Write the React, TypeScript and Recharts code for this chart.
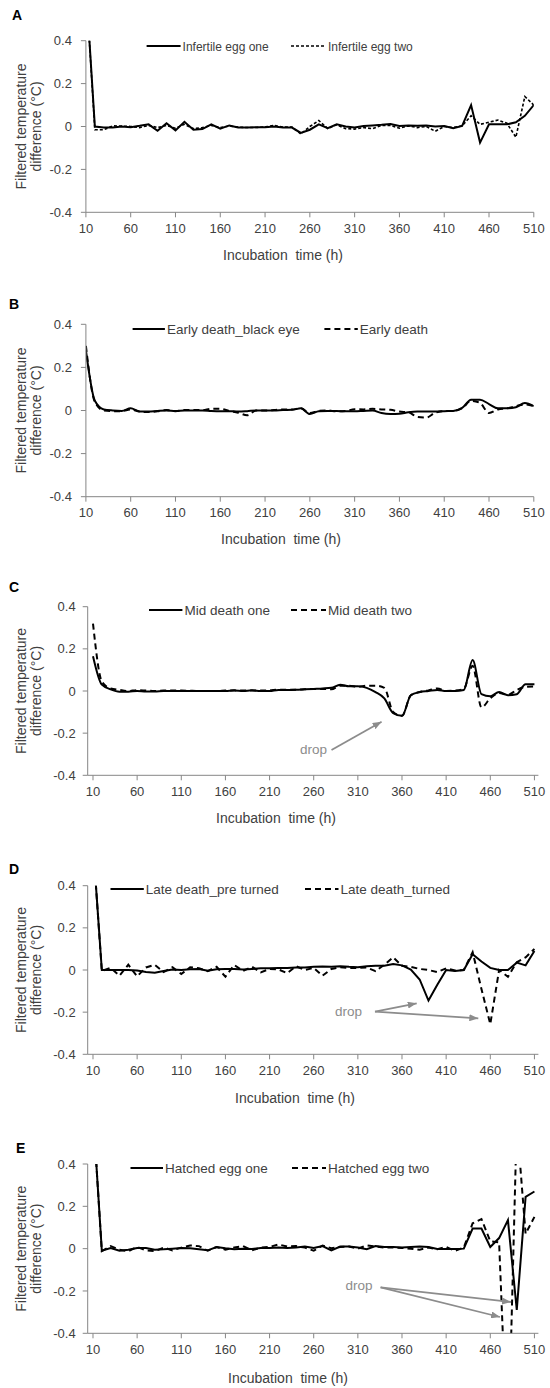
import React from "react";
import { LineChart, Line, XAxis, YAxis, Legend } from "recharts";

// incubation hours, one reading every 10 h
const HOURS = [
  10, 20, 30, 40, 50, 60, 70, 80, 90, 100,
  110, 120, 130, 140, 150, 160, 170, 180, 190, 200,
  210, 220, 230, 240, 250, 260, 270, 280, 290, 300,
  310, 320, 330, 340, 350, 360, 370, 380, 390, 400,
  410, 420, 430, 440, 450, 460, 470, 480, 490, 500, 510
];

const X_TICKS = [10, 60, 110, 160, 210, 260, 310, 360, 410, 460, 510];
const Y_TICKS = [-0.4, -0.2, 0, 0.2, 0.4];

// A - infertile eggs
const A_ONE = [
  0.66, 0, -0.005, -0.005, 0, -0.003, 0.003, 0.01, -0.02, 0.015,
  -0.018, 0.022, -0.015, -0.012, 0.01, -0.01, 0.005, -0.005, -0.005, -0.003,
  -0.003, 0, -0.005, -0.005, -0.03, -0.015, 0.01, -0.008, 0.01, 0,
  -0.005, 0.002, 0.005, 0.008, 0.012, 0.002, 0.005, 0.003, 0.005, 0,
  0.002, -0.008, 0.003, 0.1, -0.075, 0.01, 0.01, 0.01, 0.02, 0.05, 0.1
];
const A_TWO = [
  0.66, -0.015, -0.015, 0.003, 0.002, 0, -0.005, 0.005, -0.005, 0.005,
  -0.008, 0.01, -0.01, -0.005, 0.005, -0.005, 0.002, -0.003, -0.005, -0.005,
  -0.002, 0.005, -0.003, -0.003, -0.035, 0, 0.028, -0.01, 0.008, -0.01,
  -0.012, -0.005, -0.01, 0.005, 0.005, -0.008, 0.003, -0.005, 0, -0.022,
  0, -0.005, 0.003, 0.05, 0.01, 0.02, 0.03, 0.015, -0.05, 0.14, 0.1
];

// B - early death
const B_ONE = [
  0.28, 0.045, 0.005, 0, -0.002, 0.01, -0.005, -0.005, -0.002, 0,
  -0.002, 0, 0, 0, -0.002, -0.003, -0.003, -0.005, -0.003, 0,
  0, 0, 0.002, 0.003, 0.01, -0.016, -0.003, -0.002, -0.002, -0.004,
  -0.004, -0.002, 0, -0.012, -0.016, -0.015, -0.008, -0.005, -0.005, -0.005,
  -0.003, -0.002, 0.012, 0.05, 0.05, 0.03, 0.01, 0.01, 0.015, 0.035, 0.02
];
const B_TWO = [
  0.3, 0.04, 0, -0.003, -0.003, 0.005, -0.005, -0.007, -0.004, 0.002,
  -0.003, 0.002, 0.002, 0.002, 0.008, 0.008, -0.002, -0.01, -0.022, 0,
  0, 0.002, 0.005, 0.005, 0.01, -0.012, -0.002, 0, -0.004, -0.002,
  0.006, 0.005, 0.008, 0.005, 0.003, -0.005, -0.008, -0.03, -0.033, -0.01,
  -0.003, -0.002, 0.01, 0.045, 0.035, -0.012, 0.005, 0.01, 0.02, 0.028, 0.02
];

// C - mid death
const C_ONE = [
  0.165, 0.03, 0.008, -0.003, -0.003, 0, -0.002, -0.002, 0, 0,
  0, 0, 0, 0, 0, 0, 0.002, 0, 0.003, 0,
  0, 0.005, 0.005, 0.006, 0.008, 0.01, 0.012, 0.015, 0.03, 0.022,
  0.022, 0.015, -0.005, -0.035, -0.105, -0.118, -0.02, -0.005, 0, 0.005,
  0, 0, 0.005, 0.147, -0.015, -0.025, -0.005, -0.02, -0.015, 0.032, 0.032
];
const C_TWO = [
  0.32, 0.045, 0.012, 0.005, 0, 0.004, 0.002, 0, 0.002, 0.002,
  0.002, 0.001, 0, 0, 0, 0.002, 0.003, 0.002, 0.002, 0.002,
  0.003, 0.006, 0.006, 0.006, 0.008, 0.01, 0.01, 0.008, 0.025, 0.025,
  0.02, 0.025, 0.025, 0.015, -0.1, -0.118, -0.02, -0.005, 0.003, 0.012,
  0, 0.002, 0.01, 0.12, -0.078, -0.035, -0.01, -0.018, 0.005, 0.02, 0.022
];

// D - late death
const D_ONE = [
  0.6, 0, 0, 0, 0, -0.002, -0.01, -0.013, -0.005, 0.002,
  0, 0.003, 0.005, -0.003, 0.003, 0.005, 0.005, 0.002, 0.005, 0.008,
  0.008, 0.01, 0.01, 0.012, 0.012, 0.015, 0.017, 0.016, 0.018, 0.015,
  0.013, 0.018, 0.02, 0.02, 0.028, 0.022, 0.002, -0.045, -0.145, -0.07,
  0, -0.005, 0, 0.075, 0.04, 0.01, 0, 0, 0.035, 0.022, 0.09
];
const D_TWO = [
  0.6, -0.005, 0.01, -0.027, 0.025, -0.03, 0.012, 0.025, -0.01, 0.013,
  -0.019, 0.013, 0.008, -0.005, 0.015, -0.032, 0.024, -0.005, 0.016, -0.011,
  0.005, 0.003, -0.015, 0.018, 0, 0.01, -0.027, 0.005, 0.013, 0.01,
  0.01, 0.012, -0.005, 0.025, 0.06, 0.02, 0.015, 0.005, 0, -0.01,
  0.008, -0.002, 0, 0.085, -0.09, -0.257, 0, -0.032, 0.037, 0.06, 0.1
];

// E - hatched eggs
const E_ONE = [
  0.65, -0.01, 0.003, -0.01, -0.005, 0.003, 0.003, -0.005, -0.003, 0,
  0.003, 0.002, -0.003, -0.008, 0.008, 0.002, -0.003, 0, -0.002, 0.003,
  0.003, 0.005, 0.003, 0.005, 0.01, 0.003, 0.012, -0.008, 0.01, 0.01,
  0.005, -0.003, 0.012, 0.008, 0.008, 0.005, 0.008, 0.01, 0.008, -0.002,
  -0.002, -0.002, 0, 0.095, 0.095, 0.008, 0.05, 0.135, -0.29, 0.245, 0.27
];
const E_TWO = [
  0.65, -0.012, 0.012, -0.005, -0.012, 0.008, -0.008, -0.012, 0.005, -0.008,
  0.005, 0.015, 0.012, -0.01, 0.008, -0.005, 0.005, 0.012, -0.008, 0.005,
  0.008, 0.02, 0.01, 0.012, 0.005, -0.01, 0.015, 0.002, 0.008, 0.01,
  0, 0.015, 0.01, 0.005, 0.005, 0.003, 0, -0.005, 0.005, -0.003,
  0.008, -0.01, 0.005, 0.12, 0.14, 0.035, 0.03, -1.0, 0.6, 0.07, 0.15
];

const FONT = '"Liberation Sans", Arial, sans-serif';
const TEXT = "#404040";
const AXIS = "#868686";
const GREY = "#8c8c8c";

type Drop = { text: [number, number]; from: [number, number]; to: [number, number][] };

type Panel = {
  letter: string;
  letterX: number;
  letterY: number;
  top: number;
  height: number;
  plot: { top: number; bottom: number; left: number; right: number };
  domain: [number, number];
  yTickMargin: number;
  titleX: number;
  titleGap: number;
  names: [string, string];
  one: number[];
  two: number[];
  curve: "linear" | "monotone";
  dash: string;
  dashWidth: number;
  legend: { y: number; solid: [number, number]; dashed: [number, number]; fontSize: number };
  drop?: Drop;
};

const PANELS: Panel[] = [
  {
    letter: "A", letterX: 12, letterY: 20, top: 0, height: 283,
    plot: { top: 40.7, bottom: 212.3, left: 85.9, right: 533.8 },
    domain: [10, 510], yTickMargin: 9, titleX: 283, titleGap: 43,
    names: ["Infertile egg one", "Infertile egg two"], one: A_ONE, two: A_TWO,
    curve: "linear", dash: "3 2", dashWidth: 1.6,
    legend: { y: 45.7, solid: [146.6, 180.6], dashed: [291, 326], fontSize: 12 }
  },
  {
    letter: "B", letterX: 9, letterY: 309, top: 283, height: 283,
    plot: { top: 324.3, bottom: 496.7, left: 85.9, right: 533.8 },
    domain: [10, 510], yTickMargin: 9, titleX: 281, titleGap: 42,
    names: ["Early death_black eye", "Early death"], one: B_ONE, two: B_TWO,
    curve: "monotone", dash: "6 4", dashWidth: 2,
    legend: { y: 329.3, solid: [132.6, 164.9], dashed: [324.4, 357.8], fontSize: 13.5 }
  },
  {
    letter: "C", letterX: 9, letterY: 592, top: 566, height: 280,
    plot: { top: 606.7, bottom: 775.3, left: 87.7, right: 538.4 },
    domain: [4, 514.5], yTickMargin: 7, titleX: 276, titleGap: 43,
    names: ["Mid death one", "Mid death two"], one: C_ONE, two: C_TWO,
    curve: "monotone", dash: "6 4", dashWidth: 2,
    legend: { y: 610, solid: [149, 182.4], dashed: [291, 326], fontSize: 13.5 },
    drop: { text: [300, 749], from: [331.5, 750], to: [[381.6, 721.7]] }
  },
  {
    letter: "D", letterX: 9, letterY: 874, top: 846, height: 279,
    plot: { top: 885.7, bottom: 1054.3, left: 87.7, right: 538.4 },
    domain: [4, 514.5], yTickMargin: 7, titleX: 295, titleGap: 44,
    names: ["Late death_pre turned", "Late death_turned"], one: D_ONE, two: D_TWO,
    curve: "linear", dash: "6 4", dashWidth: 2,
    legend: { y: 889.3, solid: [110.5, 143.8], dashed: [305, 338.5], fontSize: 13.5 },
    drop: { text: [335, 1011], from: [375, 1011.7], to: [[416.7, 1003.3], [478.3, 1018.3]] }
  },
  {
    letter: "E", letterX: 16, letterY: 1153, top: 1125, height: 263,
    plot: { top: 1164, bottom: 1333.3, left: 87.7, right: 538.4 },
    domain: [4, 514.5], yTickMargin: 7, titleX: 288, titleGap: 45,
    names: ["Hatched egg one", "Hatched egg two"], one: E_ONE, two: E_TWO,
    curve: "linear", dash: "6 4", dashWidth: 2,
    legend: { y: 1168.3, solid: [130.5, 163], dashed: [292, 326], fontSize: 13.5 },
    drop: { text: [345.5, 1285], from: [380.6, 1287.3], to: [[511, 1302], [500, 1317]] }
  }
];

const X_AXIS_H = 30;

function PanelChart({ p }: { p: Panel }) {
  const data = HOURS.map((h, i) => ({ h, one: p.one[i], two: p.two[i] }));
  const t = p.top;
  const plotTop = p.plot.top - t;
  const plotBottom = p.plot.bottom - t;
  const midY = (plotTop + plotBottom) / 2;
  const margin = {
    top: plotTop,
    right: 550 - p.plot.right,
    left: 0,
    bottom: p.height - plotBottom - X_AXIS_H
  };
  const tick = { fill: TEXT, fontSize: 13, fontFamily: FONT };
  const ly = p.legend.y - t;
  const markerId = `arrow-${p.letter}`;

  return (
    <div style={{ position: "absolute", left: 0, top: t, width: 550, height: p.height }}>
      <LineChart width={550} height={p.height} data={data} margin={margin}>
        <XAxis
          type="number"
          dataKey="h"
          domain={p.domain}
          ticks={X_TICKS}
          interval={0}
          allowDataOverflow
          height={X_AXIS_H}
          tickSize={5}
          tickMargin={6}
          tick={tick}
          axisLine={{ stroke: AXIS }}
          tickLine={{ stroke: AXIS }}
        />
        <YAxis
          type="number"
          domain={[-0.4, 0.4]}
          ticks={Y_TICKS}
          interval={0}
          allowDataOverflow
          width={p.plot.left}
          tickSize={5}
          tickMargin={p.yTickMargin}
          tick={tick}
          axisLine={{ stroke: AXIS }}
          tickLine={{ stroke: AXIS }}
        />
        {/* centre + middle keeps the legend out of the plot offset */}
        <Legend
          layout="horizontal"
          verticalAlign="middle"
          align="center"
          wrapperStyle={{ top: ly - 10, left: 0, width: 550, height: 20 }}
          content={() => (
            <svg width={550} height={20} style={{ display: "block" }}>
              <line x1={p.legend.solid[0]} x2={p.legend.solid[1]} y1={10} y2={10} stroke="#000" strokeWidth={2} />
              <text x={p.legend.solid[1] + 2} y={14.5} fontSize={p.legend.fontSize} fontFamily={FONT} fill={TEXT}>
                {p.names[0]}
              </text>
              <line
                x1={p.legend.dashed[0]}
                x2={p.legend.dashed[1]}
                y1={10}
                y2={10}
                stroke="#000"
                strokeWidth={p.dashWidth}
                strokeDasharray={p.dash}
              />
              <text x={p.legend.dashed[1] + 2} y={14.5} fontSize={p.legend.fontSize} fontFamily={FONT} fill={TEXT}>
                {p.names[1]}
              </text>
            </svg>
          )}
        />
        <Line
          type={p.curve}
          dataKey="one"
          stroke="#000"
          strokeWidth={2}
          dot={false}
          activeDot={false}
          isAnimationActive={false}
        />
        <Line
          type={p.curve}
          dataKey="two"
          stroke="#000"
          strokeWidth={p.dashWidth}
          strokeDasharray={p.dash}
          dot={false}
          activeDot={false}
          isAnimationActive={false}
        />
      </LineChart>

      {/* panel letter, axis titles and the "drop" notes */}
      <svg
        width={550}
        height={p.height}
        style={{ position: "absolute", left: 0, top: 0, pointerEvents: "none" }}
        fontFamily={FONT}
      >
        <defs>
          <marker id={markerId} markerUnits="userSpaceOnUse" markerWidth={9} markerHeight={7} refX={9} refY={3.5} orient="auto">
            <path d="M0,0 L9,3.5 L0,7 z" fill={GREY} />
          </marker>
        </defs>
        <text x={p.letterX} y={p.letterY - t} fontSize={14} fontWeight="bold" fill="#000">
          {p.letter}
        </text>
        <text transform={`translate(25.5,${midY}) rotate(-90)`} textAnchor="middle" fontSize={14} fill={TEXT}>
          Filtered temperature
        </text>
        <text transform={`translate(41,${midY}) rotate(-90)`} textAnchor="middle" fontSize={14} fill={TEXT}>
          difference (°C)
        </text>
        <text x={p.titleX} y={plotBottom + p.titleGap + 5} textAnchor="middle" fontSize={14} fill={TEXT}>
          {"Incubation\u00a0 time (h)"}
        </text>
        {p.drop && (
          <g>
            <text x={p.drop.text[0]} y={p.drop.text[1] - t + 4.5} fontSize={13.5} fill={GREY}>
              drop
            </text>
            {p.drop.to.map((pt, i) => (
              <line
                key={i}
                x1={p.drop!.from[0]}
                y1={p.drop!.from[1] - t}
                x2={pt[0]}
                y2={pt[1] - t}
                stroke={GREY}
                strokeWidth={1.8}
                markerEnd={`url(#${markerId})`}
              />
            ))}
          </g>
        )}
      </svg>
    </div>
  );
}

export default function App() {
  return (
    <div style={{ position: "absolute", left: 0, top: 0, width: 550, height: 1388, background: "#fff" }}>
      {PANELS.map((p) => (
        <PanelChart key={p.letter} p={p} />
      ))}
    </div>
  );
}
